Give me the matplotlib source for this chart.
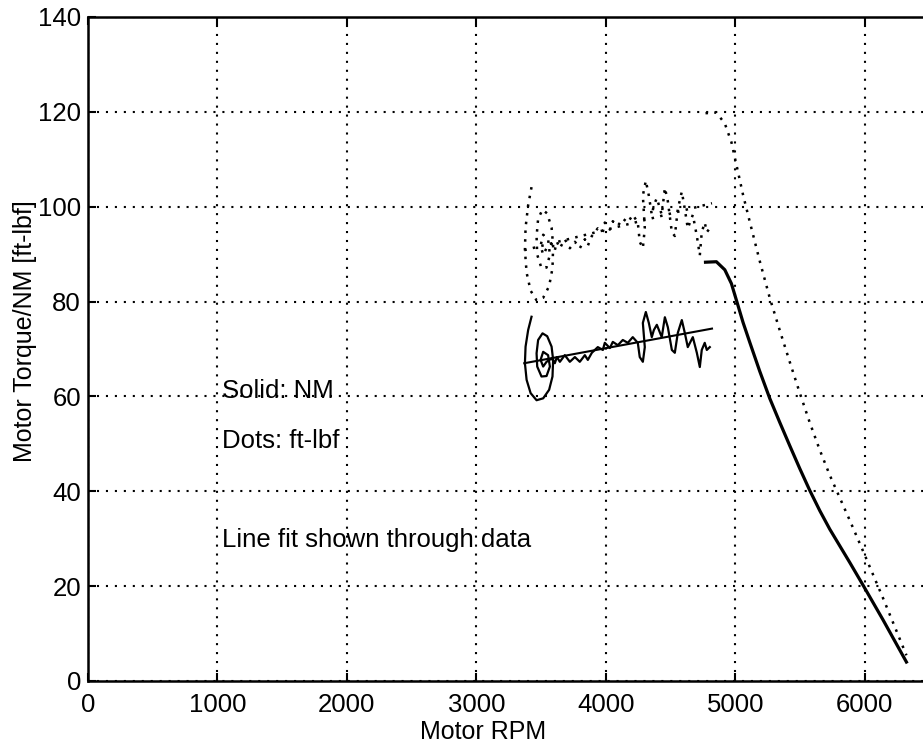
import matplotlib
matplotlib.use("Agg")
import matplotlib.pyplot as plt
import numpy as np

plt.rcParams['font.family'] = ['Liberation Sans', 'DejaVu Sans']

# torque trace while holding speed (RPM, solid units)
trace_rpm = [3426, 3400, 3380, 3375, 3388, 3419, 3465, 3516, 3562, 3588,
             3593, 3581, 3547, 3511, 3477, 3465, 3470, 3503, 3542, 3568,
             3554, 3516, 3496, 3516, 3542, 3581, 3606, 3622, 3645, 3683,
             3722, 3761, 3799, 3838, 3861, 3892, 3938, 3977, 3992, 4031,
             4054, 4093, 4131, 4170, 4208, 4247, 4262, 4286, 4301, 4286,
             4309, 4332, 4355, 4371, 4394, 4432, 4456, 4479, 4510, 4533,
             4556, 4587, 4610, 4633, 4672, 4703, 4726, 4741, 4764, 4780,
             4803]
trace_torque = [76.8, 74.0, 70.5, 67.0, 63.5, 60.7, 59.2, 59.6, 61.4, 64.2,
                67.7, 70.5, 72.7, 73.3, 71.9, 69.1, 66.3, 64.2, 64.3, 66.3,
                68.7, 69.4, 67.7, 66.3, 67.3, 68.0, 67.0, 68.3, 67.3, 68.7,
                67.3, 68.3, 67.3, 68.7, 67.7, 69.2, 70.4, 69.8, 71.3, 70.2,
                71.5, 70.8, 71.9, 71.3, 72.5, 71.3, 68.3, 67.3, 70.4, 75.5,
                77.8, 75.5, 72.5, 74.0, 75.1, 72.5, 76.7, 74.6, 69.8, 69.2,
                73.4, 76.1, 73.4, 70.4, 72.5, 69.2, 66.2, 69.8, 71.3, 69.8,
                70.4]

# straight line fit through the trace
fit_rpm = [3370, 4820]
fit_torque = [67.0, 74.3]

# torque falloff above base speed
drop_rpm = [4770, 4854, 4919, 4970, 5014, 5060, 5112, 5189, 5266, 5344,
            5421, 5498, 5575, 5653, 5730, 5807, 5884, 5987, 6141, 6322]
drop_torque = [88.3, 88.4, 86.7, 83.8, 79.8, 75.6, 71.4, 65.3, 59.6, 54.5,
               49.6, 44.8, 40.2, 35.9, 32.0, 28.5, 25.0, 20.2, 12.9, 4.0]

unit_factor = 1.3558  # second unit for the dotted curves

fig = plt.figure(figsize=(9.23, 7.48), dpi=100)
ax = fig.add_axes([88 / 923, 67 / 748, 835 / 923, 664 / 748])

dots = (0, (1, 2.5))
ax.plot(trace_rpm, trace_torque, color='black', lw=1.6)
ax.plot(fit_rpm, fit_torque, color='black', lw=1.5)
ax.plot(drop_rpm, drop_torque, color='black', lw=2.3)

ax.plot(trace_rpm, np.array(trace_torque) * unit_factor, color='black', lw=1.8, ls=dots)
ax.plot(fit_rpm, np.array(fit_torque) * unit_factor, color='black', lw=1.8, ls=dots)
ax.plot(drop_rpm, np.array(drop_torque) * unit_factor, color='black', lw=1.8, ls=dots)

ax.set_xlim(0, 6450)
ax.set_ylim(0, 140)
ax.set_xticks(range(0, 7000, 1000))
ax.set_yticks(range(0, 160, 20))
ax.grid(True, color='black', lw=1.5, ls=(0, (1, 3.3)))
ax.set_axisbelow(True)

ax.tick_params(axis='both', direction='in', length=6, width=1.5, labelsize=18.5,
               top=True)
ax.tick_params(axis='x', pad=9)
ax.tick_params(axis='y', pad=5)
ax.spines['right'].set_visible(False)
for side in ['left', 'top', 'bottom']:
    ax.spines[side].set_linewidth(1.8)

ax.set_xlabel('Motor RPM', fontsize=18)
ax.xaxis.set_label_coords(0.473, -0.058)
ax.set_ylabel('Motor Torque/NM [ft-lbf]', fontsize=18)
ax.yaxis.set_label_coords(-0.061, 0.527)

ax.text(1035, 59.7, 'Solid: NM', fontsize=18.5)
ax.text(1035, 49.1, 'Dots: ft-lbf', fontsize=18.5)
ax.text(1035, 28.3, 'Line fit shown through data', fontsize=18.5)

fig.savefig('out.png', dpi=100)
